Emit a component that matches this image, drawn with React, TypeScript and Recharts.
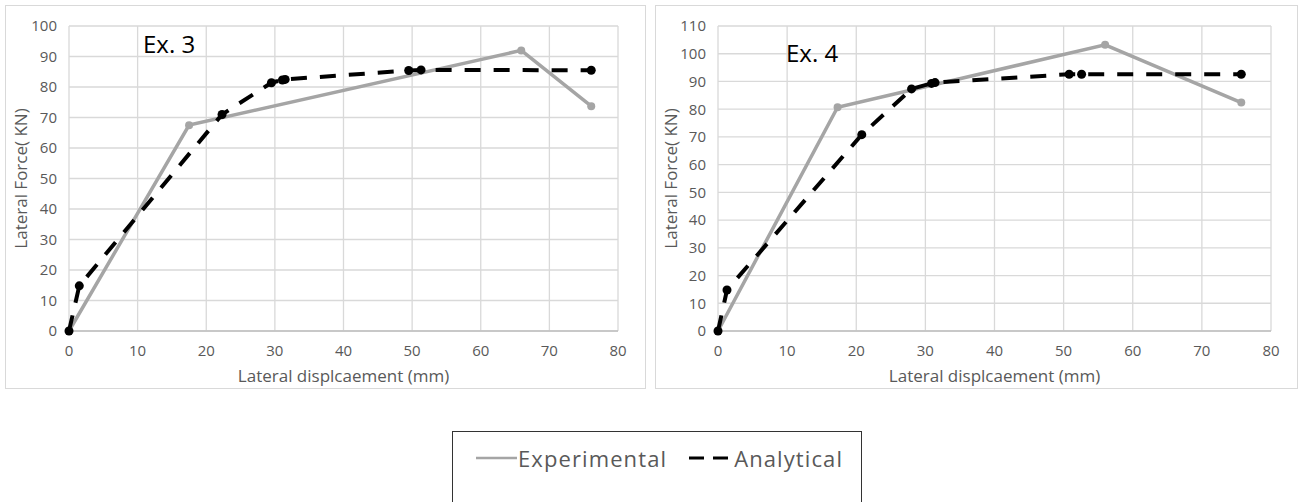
import React from 'react';
import { LineChart, Line, XAxis, YAxis, CartesianGrid } from 'recharts';

// Ex. 3
const ex3ExpX = [0, 17.5, 65.9, 76.1];
const ex3ExpY = [0, 67.5, 92.0, 73.7];
const ex3AnaX = [0, 1.5, 22.3, 29.5, 31.1, 31.5, 49.5, 51.3, 76.1];
const ex3AnaY = [0, 14.8, 71.0, 81.4, 82.3, 82.5, 85.4, 85.6, 85.5];
// Ex. 4
const ex4ExpX = [0, 17.3, 56.0, 75.7];
const ex4ExpY = [0, 80.7, 103.2, 82.4];
const ex4AnaX = [0, 1.3, 20.8, 28.0, 30.9, 31.4, 50.8, 52.6, 75.7];
const ex4AnaY = [0, 14.8, 70.8, 87.3, 89.3, 89.6, 92.6, 92.6, 92.6];

const xTicks = [0, 10, 20, 30, 40, 50, 60, 70, 80];
const yTicks3 = [0, 10, 20, 30, 40, 50, 60, 70, 80, 90, 100];
const yTicks4 = [0, 10, 20, 30, 40, 50, 60, 70, 80, 90, 100, 110];

const seriesNames = ['Experimental', 'Analytical'];
const xTitle = 'Lateral displcaement (mm)';
const yTitle = 'Lateral Force( KN)';

const FONT = '"Open Sans", sans-serif';
const GRID = '#d9d9d9';
const TXT = '#595959';
const EXP_COLOR = '#a5a5a5';
const ANA_COLOR = '#000000';
const TICK_SIZE = 15;
const TITLE_SIZE = 17;

const zip = (xs: number[], ys: number[]) => xs.map((x, i) => ({ x, y: ys[i] }));

type PanelProps = {
  left: number;
  width: number;
  marginLeft: number;
  marginRight: number;
  yTicks: number[];
  expX: number[];
  expY: number[];
  anaX: number[];
  anaY: number[];
  title: string;
  titleX: number;
  titleY: number;
};

function Panel(p: PanelProps) {
  const height = 384;
  const yMax = p.yTicks[p.yTicks.length - 1];
  return (
    <div
      style={{
        position: 'absolute',
        left: p.left,
        top: 5,
        width: p.width,
        height,
        outline: `1.5px solid ${GRID}`,
        outlineOffset: -1,
        background: '#fff',
      }}
    >
      <LineChart
        width={p.width}
        height={height}
        margin={{ top: 21, right: p.marginRight, bottom: 0, left: 0 }}
        style={{ fontFamily: FONT }}
      >
        <CartesianGrid stroke={GRID} strokeWidth={1.3} />
        <XAxis
          type="number"
          dataKey="x"
          domain={[0, 80]}
          ticks={xTicks}
          interval={0}
          height={58}
          tickLine={false}
          tickSize={0}
          tickMargin={14}
          axisLine={{ stroke: '#bfbfbf', strokeWidth: 1.3 }}
          tick={{ fill: TXT, fontSize: TICK_SIZE, fontFamily: FONT, style: { fontSize: TICK_SIZE } }}
          label={{
            value: xTitle,
            position: 'insideBottom',
            offset: 7,
            fill: TXT,
            fontSize: TITLE_SIZE,
            fontFamily: FONT,
            style: { fontSize: TITLE_SIZE },
          }}
        />
        <YAxis
          type="number"
          dataKey="y"
          domain={[0, yMax]}
          ticks={p.yTicks}
          interval={0}
          width={p.marginLeft}
          tickLine={false}
          tickSize={0}
          tickMargin={12}
          axisLine={false}
          tick={{ fill: TXT, fontSize: TICK_SIZE, fontFamily: FONT, style: { fontSize: TICK_SIZE } }}
          label={{
            value: yTitle,
            angle: -90,
            position: 'insideLeft',
            offset: 16,
            fill: TXT,
            fontSize: TITLE_SIZE,
            fontFamily: FONT,
            style: { textAnchor: 'middle', fontSize: TITLE_SIZE },
          }}
        />
        <Line
          data={zip(p.expX, p.expY)}
          dataKey="y"
          name={seriesNames[0]}
          stroke={EXP_COLOR}
          strokeWidth={3.5}
          dot={{ r: 4, fill: EXP_COLOR, stroke: EXP_COLOR, strokeWidth: 0 }}
          isAnimationActive={false}
        />
        <Line
          data={zip(p.anaX, p.anaY)}
          dataKey="y"
          name={seriesNames[1]}
          stroke={ANA_COLOR}
          strokeWidth={4}
          strokeDasharray="16 13"
          dot={{ r: 4.5, fill: ANA_COLOR, stroke: ANA_COLOR, strokeWidth: 0, strokeDasharray: '' }}
          isAnimationActive={false}
        />
      </LineChart>
      <div
        style={{
          position: 'absolute',
          left: p.titleX,
          top: p.titleY,
          fontFamily: FONT,
          fontSize: 24,
          color: '#000',
          lineHeight: 1,
          whiteSpace: 'nowrap',
        }}
      >
        {p.title}
      </div>
    </div>
  );
}

function LegendBox() {
  return (
    <div
      style={{
        position: 'absolute',
        left: 452,
        top: 431,
        width: 408,
        height: 90,
        border: '1px solid #333',
        background: '#fff',
        fontFamily: FONT,
      }}
    >
      <div style={{ position: 'absolute', left: 23, top: 13, display: 'flex', alignItems: 'center' }}>
        <svg width={41} height={26}>
          <line x1={0} y1={13} x2={41} y2={13} stroke={EXP_COLOR} strokeWidth={2.5} />
        </svg>
        <span style={{ fontSize: 22, color: TXT, letterSpacing: 1.1, marginLeft: 1, lineHeight: '26px' }}>
          {seriesNames[0]}
        </span>
        <svg width={39} height={26} style={{ marginLeft: 22 }}>
          <line x1={0} y1={13} x2={39} y2={13} stroke={ANA_COLOR} strokeWidth={3} strokeDasharray="15 9" />
        </svg>
        <span style={{ fontSize: 22, color: TXT, letterSpacing: 1.1, marginLeft: 6, lineHeight: '26px' }}>
          {seriesNames[1]}
        </span>
      </div>
    </div>
  );
}

export default function App() {
  return (
    <div style={{ position: 'absolute', left: 0, top: 0, width: 1299, height: 502, background: '#fff', overflow: 'hidden' }}>
      <Panel
        left={5}
        width={641}
        marginLeft={64}
        marginRight={28}
        yTicks={yTicks3}
        expX={ex3ExpX}
        expY={ex3ExpY}
        anaX={ex3AnaX}
        anaY={ex3AnaY}
        title="Ex. 3"
        titleX={138}
        titleY={27}
      />
      <Panel
        left={655}
        width={643}
        marginLeft={63}
        marginRight={27}
        yTicks={yTicks4}
        expX={ex4ExpX}
        expY={ex4ExpY}
        anaX={ex4AnaX}
        anaY={ex4AnaY}
        title="Ex. 4"
        titleX={131}
        titleY={36}
      />
      <LegendBox />
    </div>
  );
}
